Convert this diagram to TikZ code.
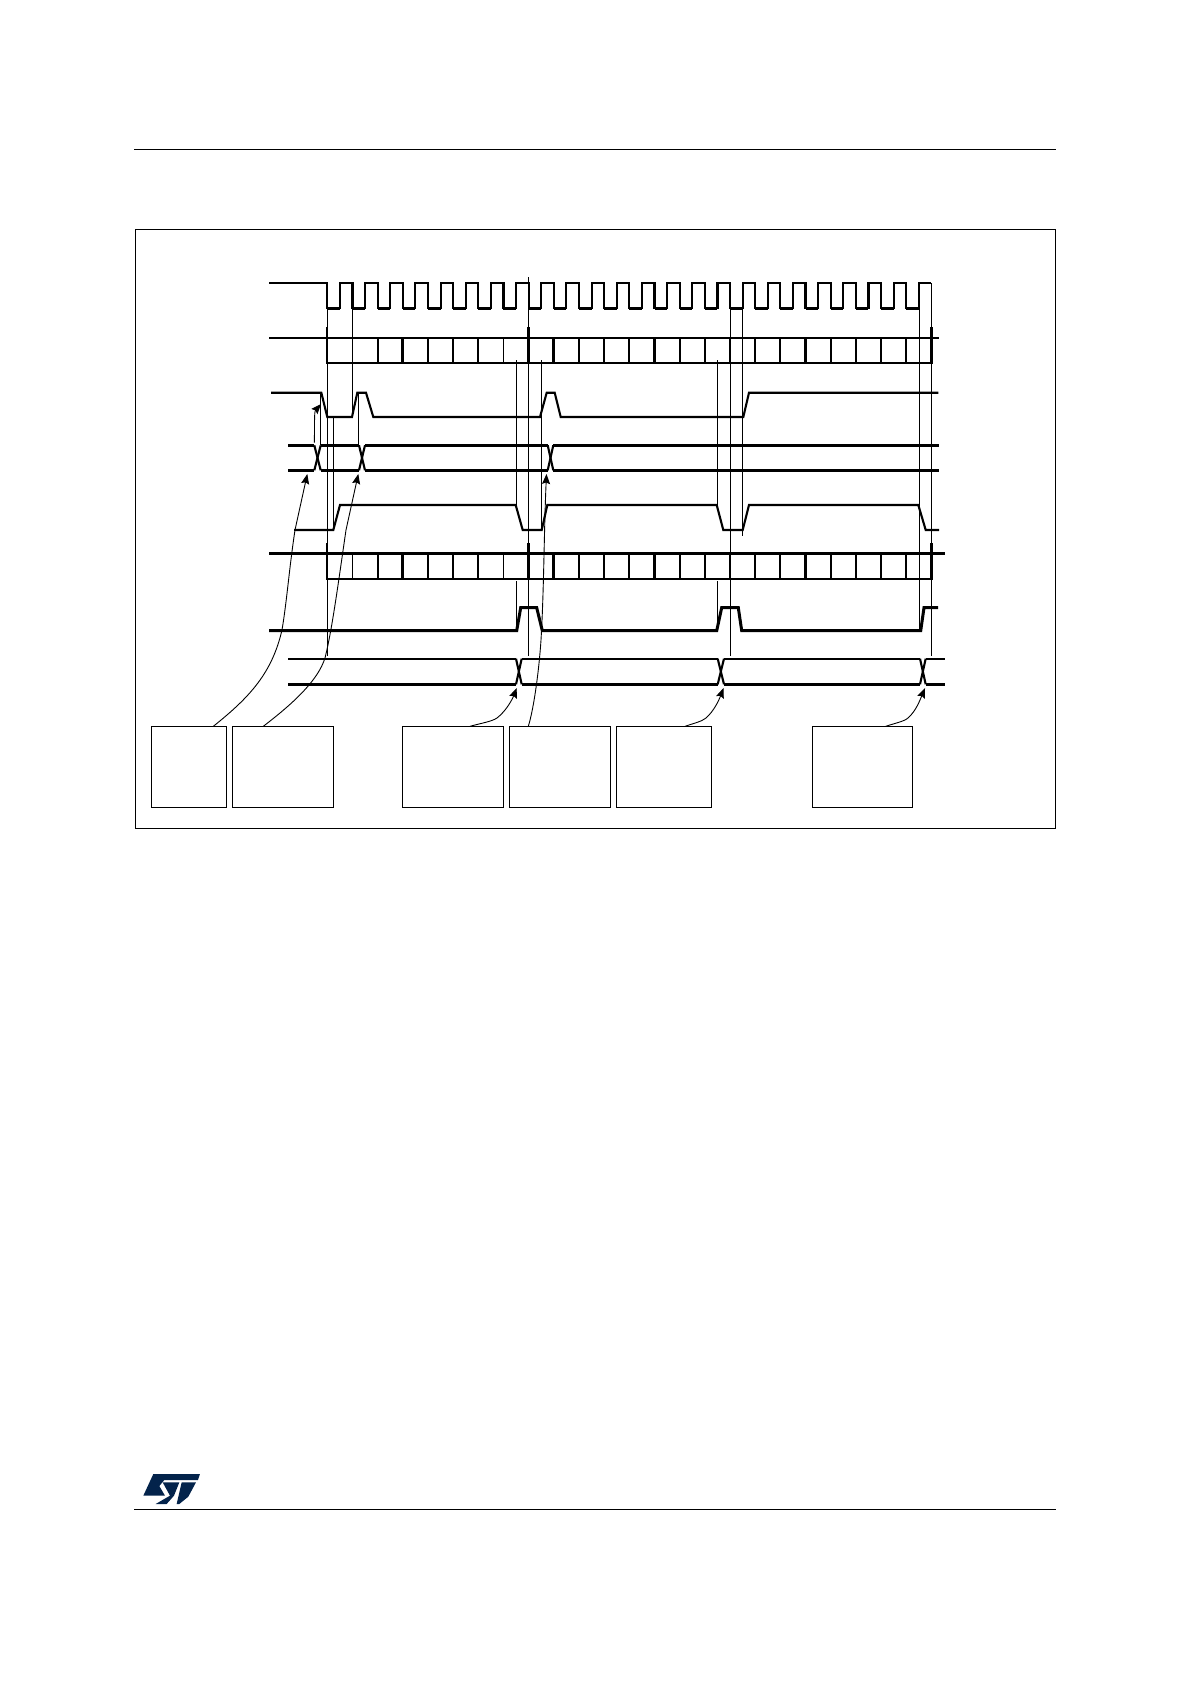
\documentclass[tikz,border=0pt]{standalone}
\usetikzlibrary{arrows.meta}
\definecolor{stblue}{HTML}{03234B}
\tikzset{
  wave/.style={line width=2.1pt,line join=miter},
  wavethick/.style={line width=3pt,line join=miter},
  cell/.style={line width=1.8pt},
  cellthick/.style={line width=3pt},
  guide/.style={line width=1pt},
  rule/.style={line width=1pt},
  callout/.style={draw,line width=1.1pt,rectangle,inner sep=0pt,anchor=north west},
  pointer/.style={line width=0.9pt,-{Stealth[length=10pt,width=8pt,inset=1.5pt]}},
  logo/.style={fill=stblue,x=0.3333pt,y=-0.3333pt},
}
\begin{document}
\begin{tikzpicture}[x=1pt,y=-1pt]
\useasboundingbox (0,0) rectangle (1190,1684);
% page rules
\draw[rule] (134,149.5) -- (1056,149.5);
\draw[rule] (134,1509.3) -- (1056,1509.3);
% frame
\draw[line width=1pt] (135.3,229.3) rectangle (1055.5,828.3);
% clock
\draw[wave] (269,283) -- (327.3,283) -- (327.3,308)
  foreach \k in {0,...,23} {
    -- ({327.3+25.17*\k+12.6},308) -- ({327.3+25.17*\k+12.6},283)
    -- ({327.3+25.17*(\k+1)},283)
    \ifnum\k<23 -- ({327.3+25.17*(\k+1)},308)\fi
  };
\foreach \k in {0,...,23} {\draw[wavethick] ({327.3+25.17*\k},308) -- ({327.3+25.17*\k+12.6},308);}
% data row 1
\draw[wave] (269,337.7) -- (939,337.7);
\draw[wave] (327.3,362.7) -- (931.7,362.7);
\foreach \k in {1,...,23} {\draw[cell] ({327.3+25.17*\k},337.7) -- ({327.3+25.17*\k},362.7);}
\foreach \k in {3,9,13,19} {\draw[cellthick] ({327.3+25.17*\k},337.7) -- ({327.3+25.17*\k},362.7);}
\draw[cell] (327.3,337.7) -- (327.3,363.7);
\foreach \xx in {528.5,931.7} {\draw[cellthick] (\xx,327) -- (\xx,363.7);}
\draw[cell] (327.3,327) -- (327.3,337.7);
% data row 2
\draw[wavethick] (269,553.3) -- (945,553.3);
\draw[wave] (327.3,578.7) -- (931.7,578.7);
\foreach \k in {1,...,23} {\draw[cell] ({327.3+25.17*\k},553.3) -- ({327.3+25.17*\k},578.7);}
\foreach \k in {3,9,13,19} {\draw[cellthick] ({327.3+25.17*\k},553.3) -- ({327.3+25.17*\k},578.7);}
\draw[cell] (327.3,543) -- (327.3,579.7);
\foreach \xx in {528.5,931.7} {\draw[cellthick] (\xx,543) -- (\xx,579.7);}
% row 3 pulse
\draw[wave] (271,392.7) -- (321.3,392.7) -- (327.3,417) -- (352,417) -- (357.3,392.7) -- (366,392.7) -- (373.3,417)
  -- (540,417) -- (546.7,392.7) -- (554.7,392.7) -- (560.7,417) -- (743.3,417) -- (749,392.7) -- (938.3,392.7);
% row 4 bus: crossings
\foreach \xa/\xb in {314.3/320.7,359/365,547.7/553.3} {
  \draw[wave] (\xa,445.3) -- (\xb,470.3);
  \draw[wave] (\xa,470.3) -- (\xb,445.3);
}
\draw[wavethick] (288.3,445.3) -- (314.3,445.3) (320.7,445.3) -- (359,445.3) (365,445.3) -- (547.7,445.3) (553.3,445.3) -- (939,445.3);
\draw[wavethick] (288.3,470.3) -- (314.3,470.3) (320.7,470.3) -- (359,470.3) (365,470.3) -- (547.7,470.3) (553.3,470.3) -- (939,470.3);
% row 5
\draw[wave] (294,530) -- (333.3,530) -- (340,505) -- (515.7,505) -- (522.7,530) -- (541.7,530) -- (547.3,505)
  -- (716.7,505) -- (723.3,530) -- (742.7,530) -- (749,505) -- (918.3,505) -- (925.7,530) -- (939,530);
% row 7
\draw[wavethick] (269,630.7) -- (516.7,630.7) -- (520.7,607.7) -- (536.7,607.7) -- (542.3,630.7) -- (716.7,630.7)
  -- (721.7,607.7) -- (738.3,607.7) -- (741.7,630.7) -- (920.7,630.7) -- (924,607.7) -- (938,607.7);
% row 8 bus
\foreach \xa/\xb in {516/521.7,717.7/724,920/925.7} {
  \draw[wave] (\xa,658.7) -- (\xb,684.3);
  \draw[wave] (\xa,684.3) -- (\xb,658.7);
}
\draw[wave] (288.3,658.7) -- (516,658.7) (521.7,658.7) -- (717.7,658.7) (724,658.7) -- (920,658.7) (925.7,658.7) -- (945,658.7);
\draw[wavethick] (288.3,684.3) -- (516,684.3) (521.7,684.3) -- (717.7,684.3) (724,684.3) -- (920,684.3) (925.7,684.3) -- (945,684.3);
% guides
\draw[guide] (327.3,308) -- (327.3,656);
\draw[guide] (352,308) -- (352,417);
\draw[guide] (320.7,392.7) -- (320.7,445.3);
\draw[guide] (358.7,392.7) -- (358.7,445.3);
\draw[guide] (333,417) -- (333,530);
\draw[guide] (516.7,360) -- (516.7,505);
\draw[guide] (516.7,581) -- (516.7,630.7);
\draw[guide] (528.3,277) -- (528.3,656);
\draw[guide] (541.7,360) -- (541.7,530);
\draw[guide] (717.3,360) -- (717.3,505);
\draw[guide] (717.3,581) -- (717.3,630.7);
\draw[guide] (730.3,308) -- (730.3,656);
\draw[guide] (742.3,308) -- (742.3,536);
\draw[guide] (919.3,308) -- (919.3,632);
\draw[guide] (931.7,283) -- (931.7,656);
% callout boxes
\node[callout,minimum width=74.6pt,minimum height=81pt] (b1) at (151.3,726.3) {};
\node[callout,minimum width=101pt,minimum height=81pt] (b2) at (232.3,726.3) {};
\node[callout,minimum width=100.6pt,minimum height=81pt] (b3) at (402.3,726.3) {};
\node[callout,minimum width=100.6pt,minimum height=81pt] (b4) at (509.3,726.3) {};
\node[callout,minimum width=95pt,minimum height=81pt] (b5) at (616.3,726.3) {};
\node[callout,minimum width=99.6pt,minimum height=81pt] (b6) at (812.3,726.3) {};
% pointer ends
\coordinate (t1) at (307.3,474);
\coordinate (t2) at (358.3,474);
\coordinate (t3) at (516.7,688);
\coordinate (t4) at (546.5,474);
\coordinate (t5) at (723.5,688);
\coordinate (t6) at (925,688);
\coordinate (t7) at (321,404);
\coordinate (s7) at (314.3,442.7);
\coordinate (s1) at (213.3,726.3);
\coordinate (s2) at (263.3,726.3);
\coordinate (s3) at (470,726.3);
\coordinate (s4) at (528.3,726.3);
\coordinate (s5) at (685,726.3);
\coordinate (s6) at (885.7,726.3);
\draw[pointer] (s1) .. controls (250,697) and (272,673) .. (282,630) .. controls (287,600) and (289,570) .. (295,530) -- (t1);
\draw[pointer] (s2) .. controls (295,702) and (318,680) .. (325,658) .. controls (332,630) and (338,585) .. (346,530) -- (t2);
\draw[pointer] (s3) .. controls (480,723.5) and (492,721.5) .. (497,718) .. controls (506,711) and (512,700) .. (t3);
\draw[pointer] (s4) .. controls (534,708) and (539,670) .. (541,640) .. controls (544,590) and (544,530) .. (t4);
\draw[pointer] (s5) .. controls (693,723.5) and (702,721.5) .. (706,718) .. controls (714,711) and (719,700) .. (t5);
\draw[pointer] (s6) .. controls (894,723.5) and (904,721.5) .. (908,718) .. controls (916,711) and (920,700) .. (t6);
\draw[pointer] (s7) .. controls (314.8,425) and (314,412) .. (t7);
% logo (coordinates relative to the logo's corner, in thirds of a pixel)
\begin{scope}[shift={(120,1450)}]
\fill[logo] (100,72) -- (240,72) -- (234,90) -- (133,90) -- (118,108) -- (135,137) -- (70,137) -- cycle;
\fill[logo] (128,97) -- (178,97) -- (162,137) -- (140,162) -- (107,162) -- (150,137) -- cycle;
\fill[logo] (185,97) -- (228,97) -- (205,140) -- (178,162) -- (170,162) -- cycle;
\end{scope}
\end{tikzpicture}
\end{document}
